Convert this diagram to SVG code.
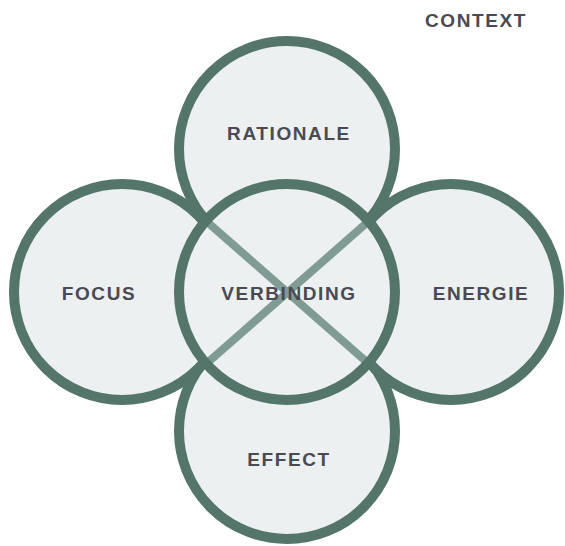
<svg xmlns="http://www.w3.org/2000/svg" width="565" height="546" viewBox="0 0 565 546">
<style>
.c{fill:#ecf0f1;stroke:#547569;stroke-width:10}
.t{font-family:"Liberation Sans","DejaVu Sans",sans-serif;font-weight:bold;font-size:19px;letter-spacing:1.6px;fill:#4a4a52;text-anchor:middle}
.x{stroke:#809b94;stroke-width:8;fill:none}
</style>
<rect width="565" height="546" fill="#ffffff"/>
<g id="context"><text class="t" x="476" y="27">CONTEXT</text></g>
<g id="rationale"><circle class="c" cx="287" cy="149" r="108"/><text class="t" x="289" y="140">RATIONALE</text></g>
<g id="effect"><circle class="c" cx="287" cy="431" r="108"/><text class="t" x="289" y="466">EFFECT</text></g>
<g id="focus"><circle class="c" cx="122" cy="292" r="108"/><text class="t" x="99" y="300">FOCUS</text></g>
<g id="energie"><circle class="c" cx="451" cy="292" r="108"/><text class="t" x="481" y="300">ENERGIE</text></g>
<g id="verbinding"><circle cx="287" cy="292" r="108" fill="#ecf0f1"/></g>
<g id="connectors">
<line class="x" x1="205" y1="220" x2="369" y2="364"/>
<line class="x" x1="370" y1="220" x2="206" y2="364"/>
</g>
<g id="verbinding-outline"><circle cx="287" cy="292" r="108" fill="none" stroke="#547569" stroke-width="10"/><text class="t" x="289" y="300">VERBINDING</text></g>
</svg>
